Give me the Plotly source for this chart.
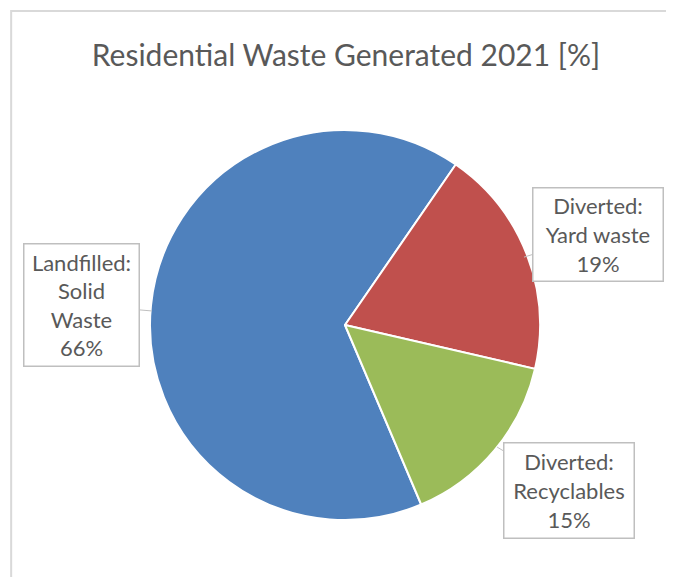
import plotly.graph_objects as go

# dados
categorias = ["Landfilled: Solid Waste", "Diverted: Yard waste", "Diverted: Recyclables"]
rotulos = ["Landfilled:<br>Solid<br>Waste", "Diverted:<br>Yard waste", "Diverted:<br>Recyclables"]
valores = [66, 19, 15]
cores = ["#4F81BD", "#C0504D", "#9BBB59"]

FONTE = "Gill Sans, Gill Sans MT, Lato, sans-serif"
CINZA = "#595959"

fig = go.Figure(go.Pie(
    labels=categorias,
    values=valores,
    sort=False,
    direction="clockwise",
    rotation=157,
    marker={"colors": cores, "line": {"color": "white", "width": 2}},
    textinfo="none",
    hoverinfo="label+percent",
    showlegend=False,
))

# caixas de rotulo (callouts)
pos = [
    # x, y da ponta, deslocamento da caixa, largura, altura
    (0.005, 0.536, -70, -6, 110, 117),
    (0.959, 0.674, 74, -23, 125, 88),
    (0.890, 0.187, 72, 43, 125, 90),
]
total = sum(valores)
for rot, v, (x, y, ax, ay, w, h) in zip(rotulos, valores, pos):
    fig.add_annotation(
        x=x, y=y, xref="paper", yref="paper",
        ax=ax, ay=ay,
        text=f"{rot}<br>{round(100 * v / total)}%",
        showarrow=True, arrowhead=0, arrowwidth=1, arrowcolor="#BFBFBF",
        font={"family": FONTE, "size": 22, "color": CINZA},
        align="center",
        bgcolor="white", bordercolor="#BFBFBF", borderwidth=1.5, borderpad=2,
        width=w, height=h,
    )

# borda da area do grafico
fig.add_shape(
    type="rect", xref="paper", yref="paper",
    x0=-0.356, y0=-0.3, x1=1.5, y1=1.305,
    line={"color": "#D9D9D9", "width": 2},
    layer="below",
)

fig.update_layout(
    title={
        "text": "Residential Waste Generated 2021 [%]",
        "font": {"family": FONTE, "size": 30, "color": CINZA},
        "x": 338 / 674, "xanchor": "center",
        "y": 1 - 47 / 577, "yanchor": "middle",
    },
    width=674,
    height=577,
    margin={"l": 142, "r": 142, "t": 122, "b": 65},
    paper_bgcolor="white",
    plot_bgcolor="white",
)

fig.write_html("out.html")
